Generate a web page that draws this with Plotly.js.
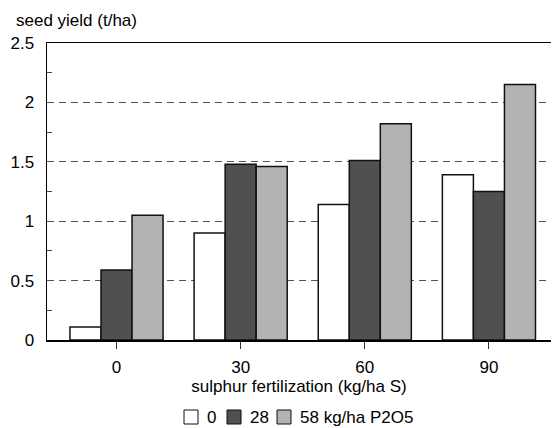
<!DOCTYPE html>
<html>
<head>
<meta charset="utf-8">
<script src="https://cdn.plot.ly/plotly-3.0.1.min.js"></script>
<style>html,body{margin:0;padding:0;background:#fff;}#chart{width:552px;height:428px;}</style>
</head>
<body>
<div id="chart"></div>
<script>
const categories = ['0', '30', '60', '90'];
const seriesNames = ['0', '28', '58 kg/ha P2O5'];
const p0 = [0.11, 0.90, 1.14, 1.39];
const p28 = [0.59, 1.48, 1.51, 1.25];
const p58 = [1.05, 1.46, 1.82, 2.15];
const yTicks = [0, 0.5, 1, 1.5, 2, 2.5];
const yTickLabels = ['0', '0.5', '1', '1.5', '2', '2.5'];
const colors = ['#ffffff', '#505050', '#b3b3b3'];

const W = 552, H = 428;
const M = {l: 47, r: 1, t: 43, b: 88};
const PW = W - M.l - M.r, PH = H - M.t - M.b;
const px2x = px => (px - M.l) / PW;
const py2y = py => (H - M.b - py) / PH;

const font = {family: 'Liberation Sans, Arial, sans-serif', size: 17, color: '#000'};
const traces = [p0, p28, p58].map((vals, i) => ({
  type: 'bar',
  x: categories,
  y: vals,
  name: seriesNames[i],
  marker: {color: colors[i], line: {color: '#111', width: 1.5}}
}));

// custom legend (pixel layout matching reference)
const legendSquareLeft = [184, 227, 277];
const legendY = 417, sq = 14;
const shapes = [], annotations = [];
seriesNames.forEach((n, i) => {
  shapes.push({type: 'rect', xref: 'paper', yref: 'paper',
    x0: px2x(legendSquareLeft[i]), x1: px2x(legendSquareLeft[i] + sq),
    y0: py2y(legendY - sq / 2), y1: py2y(legendY + sq / 2),
    fillcolor: colors[i], line: {color: '#111', width: 1}});
  annotations.push({text: n, xref: 'paper', yref: 'paper',
    x: px2x(legendSquareLeft[i] + sq + 7), y: py2y(legendY),
    xanchor: 'left', yanchor: 'middle', showarrow: false, font: font});
});
annotations.push({text: 'seed yield (t/ha)', xref: 'paper', yref: 'paper',
  x: px2x(14), y: py2y(20), xanchor: 'left', yanchor: 'middle', showarrow: false, font: font});

const layout = {
  width: W, height: H,
  margin: M,
  paper_bgcolor: '#fff', plot_bgcolor: '#fff',
  font: font,
  barmode: 'group', bargap: 0.25, bargroupgap: 0,
  showlegend: false,
  xaxis: {
    type: 'category', range: [-0.56, 3.5],
    showline: true, linecolor: '#000', linewidth: 1.5, mirror: true,
    ticks: 'outside', ticklen: 7, tickcolor: '#333', tickwidth: 1,
    ticklabelstandoff: 4,
    showgrid: false, zeroline: false,
    title: {text: 'sulphur fertilization (kg/ha S)', font: font, standoff: 4}
  },
  yaxis: {
    range: [0, 2.5],
    tickvals: yTicks, ticktext: yTickLabels,
    showline: true, linecolor: '#000', linewidth: 1.5,
    ticks: '', ticklabelstandoff: 8,
    showgrid: true, gridcolor: '#555', gridwidth: 1, griddash: '7px,5px',
    zeroline: false,
    minor: {dtick: 0.5, tick0: 0.25, ticks: 'inside', ticklen: 5, tickcolor: '#444', showgrid: false}
  },
  shapes: shapes,
  annotations: annotations
};
Plotly.newPlot('chart', traces, layout, {displayModeBar: false, staticPlot: true});
</script>
</body>
</html>
